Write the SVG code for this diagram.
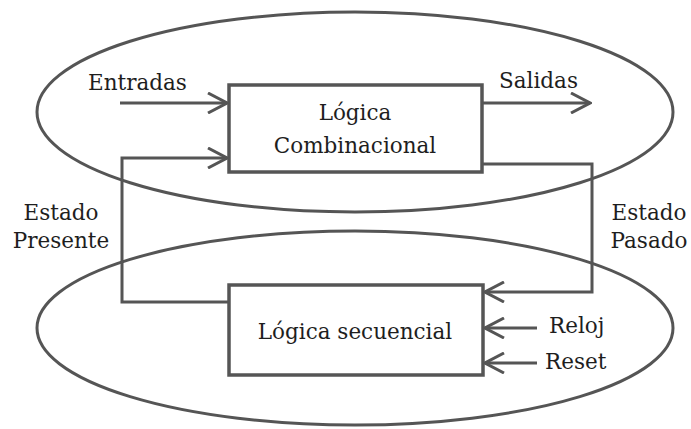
<svg xmlns="http://www.w3.org/2000/svg" width="691" height="429" viewBox="0 0 691 429">
  <defs>
    <style>
      .line { fill: none; stroke: #555; stroke-width: 3; }
      .box { fill: #fff; stroke: #555; stroke-width: 3.5; }
      .lbl { font-family: "DejaVu Serif", "Liberation Serif", serif; font-size: 21.5px; fill: #1e1e1e; }
      .mid { text-anchor: middle; }
    </style>
    <!-- open chevron arrowhead -->
    <marker id="open" viewBox="0 0 22 22" refX="20" refY="11" markerWidth="22" markerHeight="22" markerUnits="userSpaceOnUse" orient="auto">
      <path d="M1,1 L20,11 L1,21" fill="none" stroke="#555" stroke-width="3"/>
    </marker>
  </defs>

  <g id="combinational-region">
    <ellipse class="line" cx="355" cy="112" rx="318" ry="100"/>
  </g>
  <g id="sequential-region">
    <ellipse class="line" cx="355" cy="328" rx="318" ry="97"/>
  </g>

  <g id="connectors">
    <line class="line" x1="120" y1="103" x2="227" y2="103" marker-end="url(#open)"/>
    <line class="line" x1="482" y1="103" x2="590" y2="103" marker-end="url(#open)"/>
    <polyline class="line" points="229,302 122,302 122,158 227,158" marker-end="url(#open)"/>
    <polyline class="line" points="482,164 592,164 592,292 485,292" marker-end="url(#open)"/>
    <line class="line" x1="537" y1="328" x2="485" y2="328" marker-end="url(#open)"/>
    <line class="line" x1="537" y1="363" x2="485" y2="363" marker-end="url(#open)"/>
  </g>

  <g id="combinational-logic">
    <rect class="box" x="229" y="85" width="253" height="87"/>
    <text class="lbl mid" x="355" y="120">Lógica</text>
    <text class="lbl mid" x="355" y="153">Combinacional</text>
  </g>

  <g id="sequential-logic">
    <rect class="box" x="229" y="285" width="254" height="90"/>
    <text class="lbl mid" x="355" y="339">Lógica secuencial</text>
  </g>

  <g id="labels">
    <text class="lbl" x="88" y="90">Entradas</text>
    <text class="lbl" x="499" y="88">Salidas</text>
    <text class="lbl mid" x="61" y="220">Estado</text>
    <text class="lbl mid" x="61" y="248">Presente</text>
    <text class="lbl mid" x="649" y="220">Estado</text>
    <text class="lbl mid" x="649" y="248">Pasado</text>
    <text class="lbl" x="549" y="333">Reloj</text>
    <text class="lbl" x="545" y="369">Reset</text>
  </g>
</svg>
